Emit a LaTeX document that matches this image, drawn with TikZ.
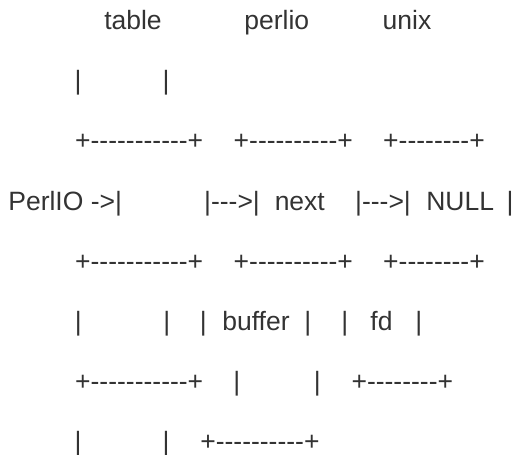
\documentclass[tikz,border=0pt]{standalone}
\usepackage{fontspec}
\setmainfont{Liberation Sans}[Ligatures=TeXOff]
\tikzset{
  ascii/.style={anchor=base, inner sep=0pt, text=black!80,
    font=\fontsize{26.5}{30}\selectfont}
}
\begin{document}
\begin{tikzpicture}[x=1pt, y=-1pt]
    \useasboundingbox (0, 0) rectangle (517, 455);
    % layer names
    \node [ascii] (tbl) at (133, 29.3) {table};
    \node [ascii] (prl) at (276.8, 29.3) {perlio};
    \node [ascii] (unx) at (407, 29.3) {unix};
    \node [ascii] (tbarl) at (78, 89.5) {|};
    \node [ascii] (tbarr) at (166, 89.5) {|};
    % top edges
    \node [ascii] (ttop) at (139.2, 149.8) {+-----------+};
    \node [ascii] (ptop) at (293.3, 149.8) {+----------+};
    \node [ascii] (utop) at (434, 149.8) {+--------+};
    % pointer row
    \node [ascii] (perlio) at (65.2, 210) {PerlIO ->|};
    \node [ascii] (arra) at (232, 210) {|--->|};
    \node [ascii] (nexta) at (299.8, 210) {next};
    \node [ascii] (arrb) at (383, 210) {|--->|};
    \node [ascii] (null) at (460.2, 210) {NULL};
    \node [ascii] (nbar) at (510, 210) {|};
    % middle edges
    \node [ascii] (tmid) at (139.2, 270.2) {+-----------+};
    \node [ascii] (pmid) at (293.3, 270.2) {+----------+};
    \node [ascii] (umid) at (434, 270.2) {+--------+};
    % buffer row
    \node [ascii] (tbl5) at (78.3, 330.4) {|};
    \node [ascii] (tbr5) at (166.7, 330.4) {|};
    \node [ascii] (pbl5) at (203.3, 330.4) {|};
    \node [ascii] (buf) at (256, 330.4) {buffer};
    \node [ascii] (pbr5) at (307.7, 330.4) {|};
    \node [ascii] (ubl5) at (344.7, 330.4) {|};
    \node [ascii] (fd) at (381.5, 330.4) {fd};
    \node [ascii] (ubr5) at (418.7, 330.4) {|};
    % lower edges
    \node [ascii] (tbot) at (139.2, 390.6) {+-----------+};
    \node [ascii] (pbl6) at (236.7, 390.6) {|};
    \node [ascii] (pbr6) at (317.3, 390.6) {|};
    \node [ascii] (ubot) at (402.3, 390.6) {+--------+};
    \node [ascii] (tbl7) at (78, 450.8) {|};
    \node [ascii] (tbr7) at (166, 450.8) {|};
    \node [ascii] (pbot) at (259.9, 450.8) {+----------+};
  \end{tikzpicture}
\end{document}
